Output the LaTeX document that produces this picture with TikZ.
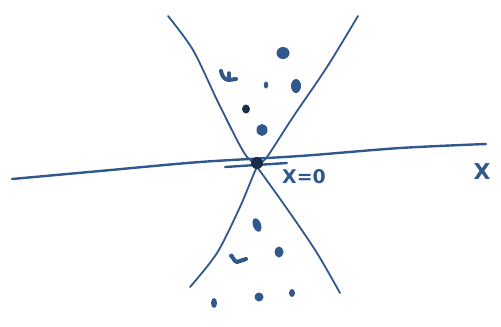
\documentclass[tikz,border=0pt]{standalone}
\usepackage{fontspec}
\setsansfont{DejaVu Sans}
\begin{document}
\begin{tikzpicture}[x=1bp,y=-1bp,line cap=round,line join=round]
\definecolor{ink}{RGB}{48,88,140}
\definecolor{inkdark}{RGB}{28,45,75}
\tikzset{
  curve/.style={draw=ink,line width=1.8bp},
  axis/.style={draw=ink,line width=2.4bp},
  blob/.style={fill=ink,draw=none},
  hand/.style={text=ink,font=\sffamily\bfseries\fontsize{19}{19}\selectfont,inner sep=0pt}
}
\useasboundingbox (0,0) rectangle (501,326);
% horizontal axis
\draw[axis] plot[smooth] coordinates {(12,179) (100,171) (200,162) (300,156) (400,148) (486,144)};
\draw[axis] (225,167) -- (287,163);
% upper-left to lower-right
\draw[curve] plot[smooth] coordinates {(168,16) (193,50) (217,100) (237,140) (247,157) (257,167) (290,213) (317,253) (340,293)};
% upper-right to lower-left
\draw[curve] plot[smooth] coordinates {(358,16) (327,67) (293,117) (267,157) (257,167) (240,207) (217,253) (190,287)};
% central point
\coordinate (o) at (257,163);
\fill[inkdark] (o) circle (6);
% labels
\node[hand] (lab0) at (304,177) {X=0};
\node[hand,font=\sffamily\bfseries\fontsize{22}{22}\selectfont] (labx) at (482,172) {X};
% blobs above
\draw[ink,line width=4bp] (221,71) to[out=-80,in=180] (229,80) -- (236,79);
\draw[ink,line width=3.5bp] (229,80) -- (229,73);
\fill[blob] (266,85) ellipse [x radius=2.2,y radius=3.5];
\fill[blob] (296,86) ellipse [x radius=5,y radius=7];
\fill[blob] (283,53) ellipse [x radius=6.5,y radius=6];
\fill[inkdark] (246,109) ellipse [x radius=4,y radius=4.5];
\fill[blob] (262,130) ellipse [x radius=5.5,y radius=6];
% blobs below
\fill[blob,rotate around={20:(257,225)}] (257,225) ellipse [x radius=4,y radius=7];
\fill[blob] (279,252) ellipse [x radius=4.5,y radius=5.5];
\draw[ink,line width=4bp] (231,256) to[out=90,in=180] (237,262) -- (246,259);
\fill[blob] (259,297) ellipse [x radius=4.5,y radius=4.5];
\fill[blob] (292,293) ellipse [x radius=3,y radius=4];
\fill[blob] (214,303) ellipse [x radius=3,y radius=5];
\end{tikzpicture}
\end{document}
